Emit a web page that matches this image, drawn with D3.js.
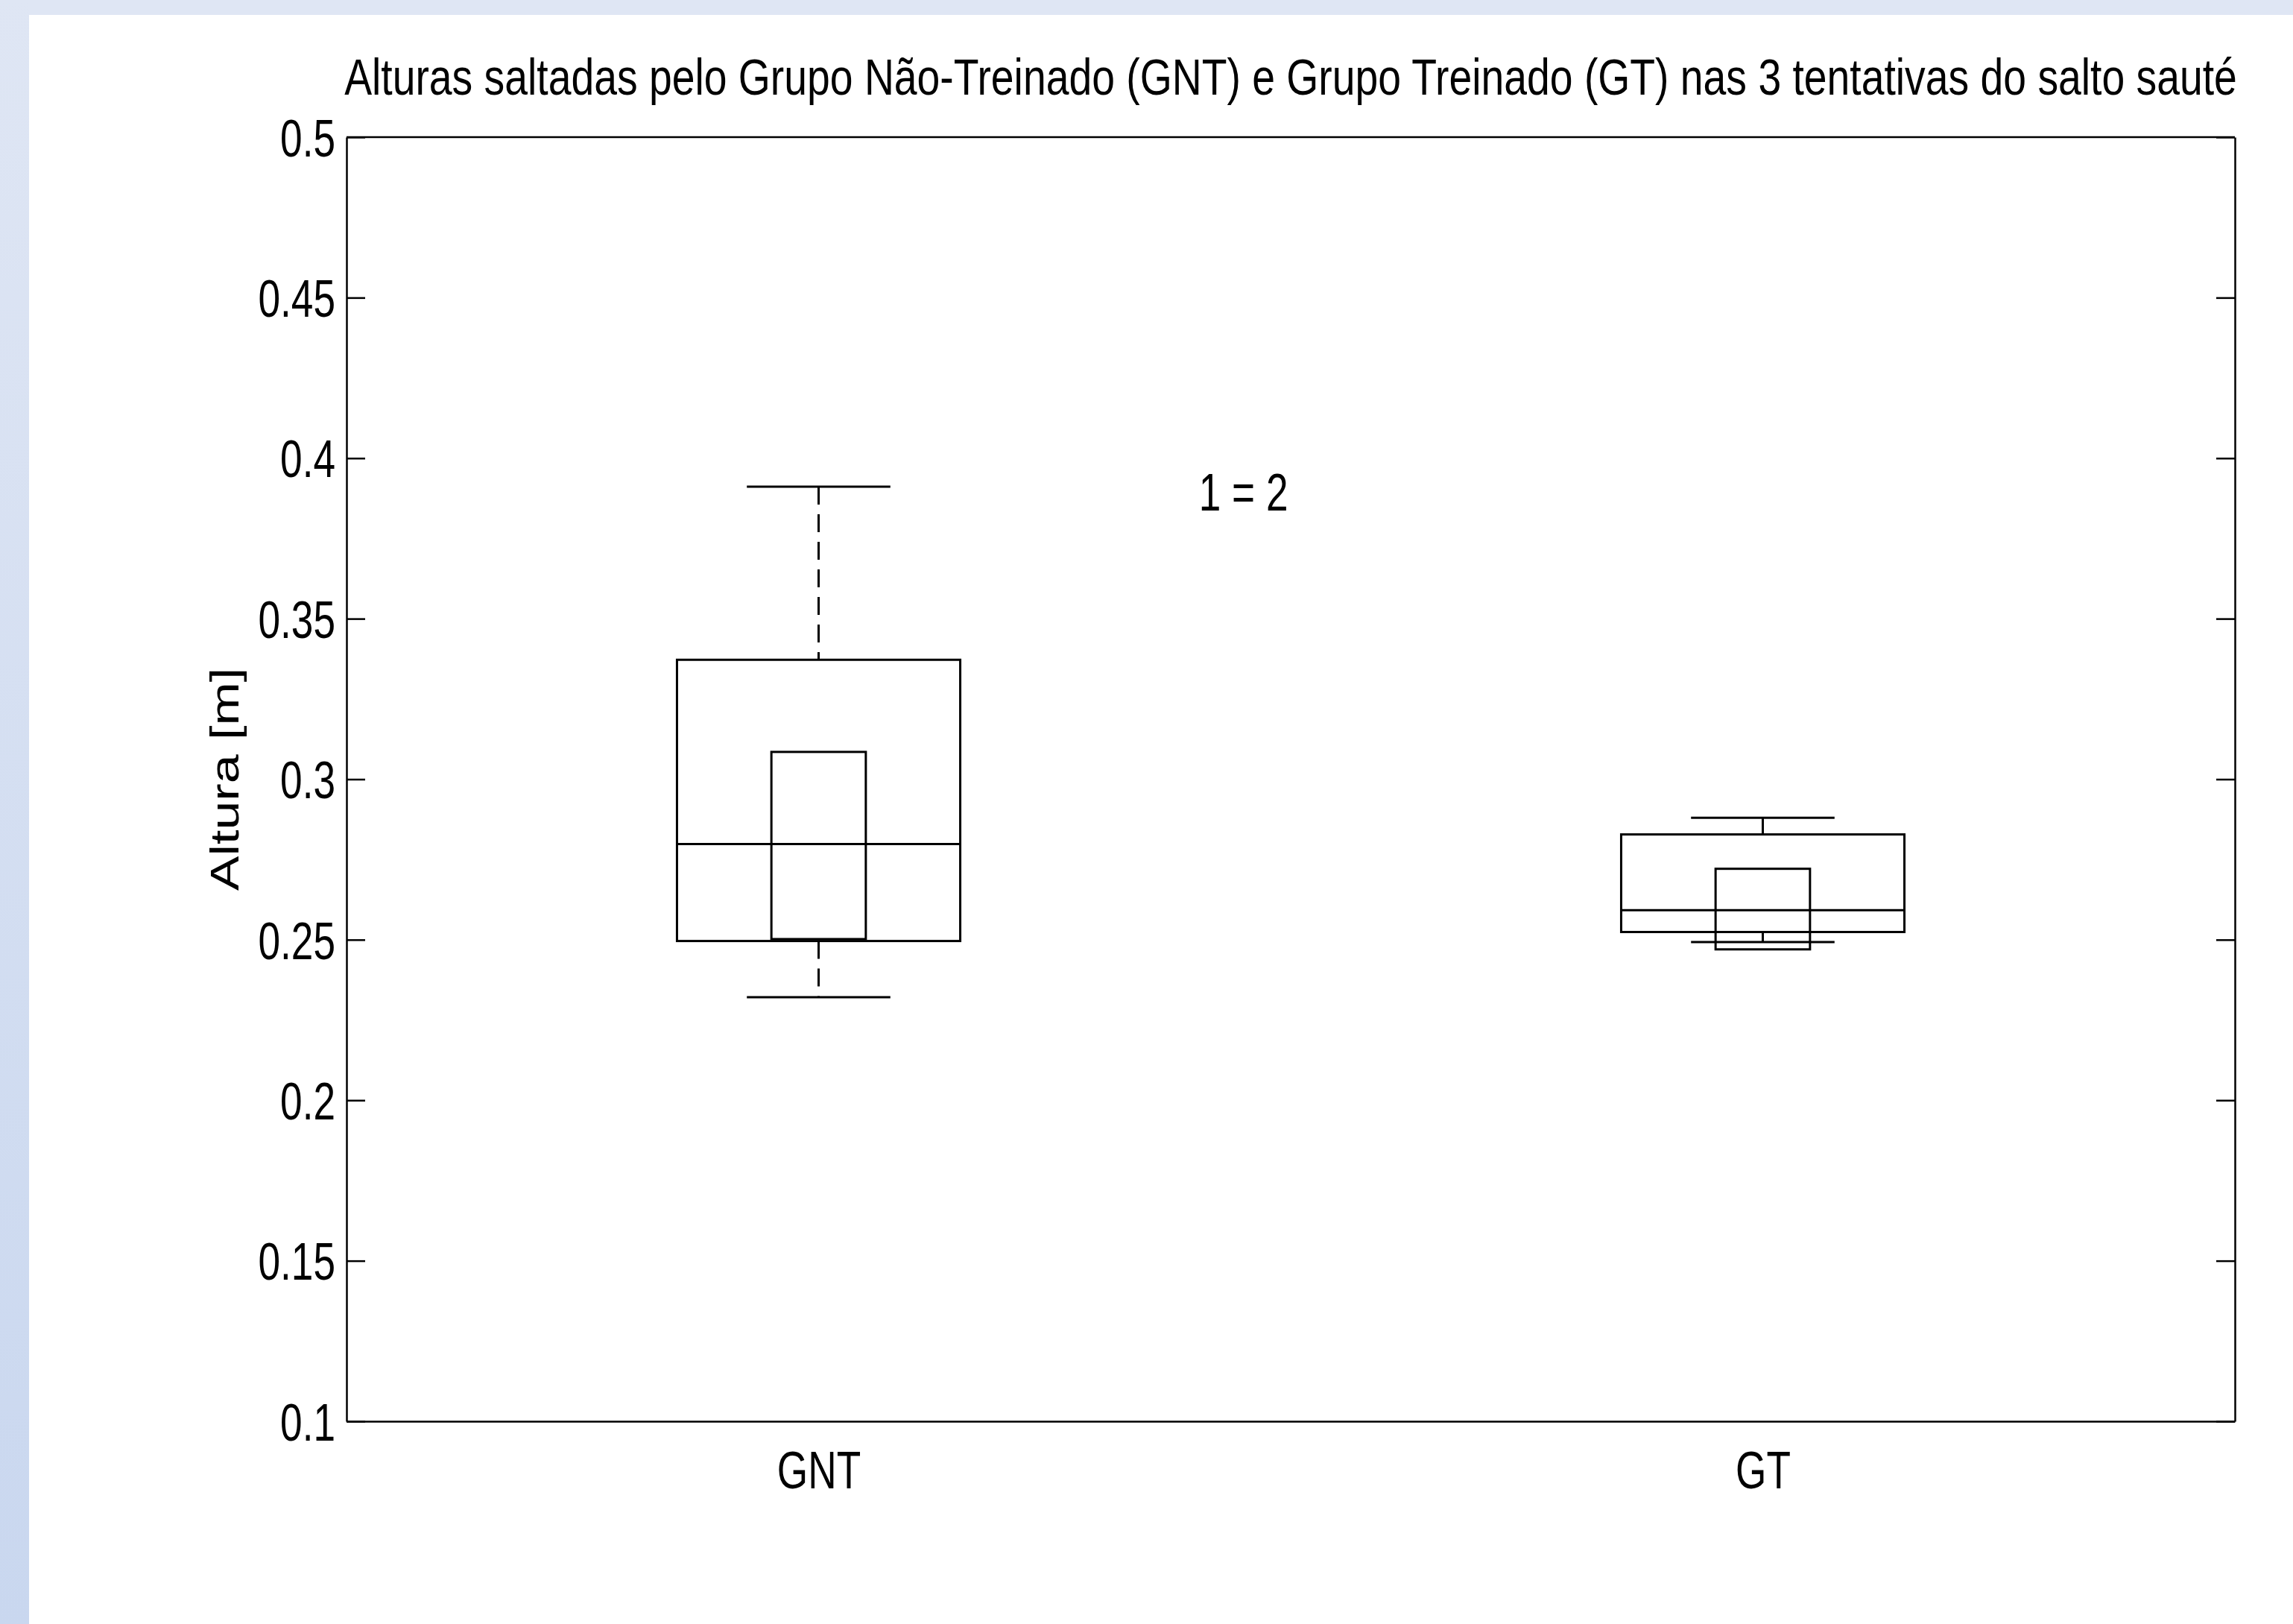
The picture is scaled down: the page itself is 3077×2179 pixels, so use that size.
<!DOCTYPE html>
<html>
<head>
<meta charset="utf-8">
<script src="https://cdn.jsdelivr.net/npm/d3@7"></script>
<style>
  body { margin: 0; background: #fff; }
  svg text { font-family: "Liberation Sans", Arial, sans-serif; fill: #000; }
</style>
</head>
<body>
<div id="chart"></div>
<script>
// Données du graphique
const groups = ["GNT", "GT"];
const positions = [1, 2];
const whiskerLow = [0.2321, 0.2493];
const q1 = [0.2496, 0.2524];
const median = [0.2798, 0.2592];
const q3 = [0.3372, 0.2828];
const whiskerHigh = [0.3911, 0.2880];
const innerLow = [0.2502, 0.2470];
const innerHigh = [0.3085, 0.2721];
const yTicks = [0.1, 0.15, 0.2, 0.25, 0.3, 0.35, 0.4, 0.45, 0.5];
const titleText = "Alturas saltadas pelo Grupo Não-Treinado (GNT) e Grupo Treinado (GT) nas 3 tentativas do salto sauté";
const yLabel = "Altura [m]";
const note = {x: 1.45, y: 0.3838, text: "1 = 2"};

const W = 3077, H = 2179;
const margin = {top: 184, right: 78, bottom: 272, left: 465};
const fontSize = 70, squeeze = 0.76;   // texte étroit comme dans l'original

const svg = d3.select("#chart").append("svg")
    .attr("width", W)
    .attr("height", H);

// Fond : bandes bleues en haut et à gauche
const grad = svg.append("defs").append("linearGradient")
    .attr("id", "side").attr("x1", 0).attr("y1", 0).attr("x2", 0).attr("y2", 1);
grad.append("stop").attr("offset", "0%").attr("stop-color", "#dfe6f4");
grad.append("stop").attr("offset", "100%").attr("stop-color", "#c9d7ef");

svg.append("rect").attr("width", W).attr("height", H).attr("fill", "#fff");
svg.append("rect").attr("width", W).attr("height", 20).attr("fill", "#dfe6f4");
svg.append("rect").attr("width", 39).attr("height", H).attr("fill", "url(#side)");

const x = d3.scaleLinear()
    .domain([0.5, 2.5])
    .range([margin.left, W - margin.right]);

const y = d3.scaleLinear()
    .domain([0.1, 0.5])
    .range([H - margin.bottom, margin.top]);

// Axes
const yAxis = svg.append("g")
    .attr("transform", "translate(" + margin.left + ",0)")
    .call(d3.axisLeft(y).tickValues(yTicks).tickFormat(d3.format("~g"))
        .tickSizeInner(-25).tickSizeOuter(0).tickPadding(15));

yAxis.selectAll("text")
    .attr("font-size", fontSize)
    .attr("x", -15 / squeeze)
    .attr("dy", "0.36em")
    .attr("transform", "scale(" + squeeze + ",1)");

svg.append("g")
    .attr("transform", "translate(" + (W - margin.right) + ",0)")
    .call(d3.axisRight(y).tickValues(yTicks).tickFormat("")
        .tickSizeInner(-25).tickSizeOuter(0));

const xAxis = svg.append("g")
    .attr("transform", "translate(0," + (H - margin.bottom) + ")")
    .call(d3.axisBottom(x).tickValues(positions).tickFormat((d, i) => groups[i])
        .tickSize(0).tickPadding(40));

xAxis.selectAll("text")
    .attr("font-size", fontSize)
    .attr("transform", "scale(" + squeeze + ",1)");

svg.append("line")
    .attr("x1", x(0.5)).attr("x2", x(2.5))
    .attr("y1", y(0.5)).attr("y2", y(0.5));

svg.selectAll(".domain, .tick line, line")
    .attr("stroke", "#000")
    .attr("stroke-width", 2.5);

// Boîtes à moustaches
const boxHalf = 0.15, capHalf = 0.076, innerHalf = 0.05;
const stats = positions.map((p, i) => ({
    pos: p,
    lo: whiskerLow[i], q1: q1[i], med: median[i], q3: q3[i], hi: whiskerHigh[i],
    inLo: innerLow[i], inHi: innerHigh[i]
}));

const box = svg.append("g")
    .attr("stroke", "#000")
    .attr("stroke-width", 3)
    .attr("fill", "none");

const g = box.selectAll("g.box")
    .data(stats)
    .enter().append("g")
    .attr("class", "box");

// moustaches
g.append("line")
    .attr("x1", d => x(d.pos)).attr("x2", d => x(d.pos))
    .attr("y1", d => y(d.hi)).attr("y2", d => y(d.q3))
    .attr("stroke-dasharray", "24,13");
g.append("line")
    .attr("x1", d => x(d.pos)).attr("x2", d => x(d.pos))
    .attr("y1", d => y(d.q1)).attr("y2", d => y(d.lo))
    .attr("stroke-dasharray", "24,13");

g.append("line")
    .attr("x1", d => x(d.pos - capHalf)).attr("x2", d => x(d.pos + capHalf))
    .attr("y1", d => y(d.hi)).attr("y2", d => y(d.hi));
g.append("line")
    .attr("x1", d => x(d.pos - capHalf)).attr("x2", d => x(d.pos + capHalf))
    .attr("y1", d => y(d.lo)).attr("y2", d => y(d.lo));

g.append("rect")
    .attr("x", d => x(d.pos - boxHalf))
    .attr("width", d => x(d.pos + boxHalf) - x(d.pos - boxHalf))
    .attr("y", d => y(d.q3))
    .attr("height", d => y(d.q1) - y(d.q3));

g.append("rect")
    .attr("x", d => x(d.pos - innerHalf))
    .attr("width", d => x(d.pos + innerHalf) - x(d.pos - innerHalf))
    .attr("y", d => y(d.inHi))
    .attr("height", d => y(d.inLo) - y(d.inHi));

g.append("line")
    .attr("x1", d => x(d.pos - boxHalf)).attr("x2", d => x(d.pos + boxHalf))
    .attr("y1", d => y(d.med)).attr("y2", d => y(d.med));

// Textes
const title = svg.append("text")
    .attr("text-anchor", "middle")
    .attr("font-size", 68)
    .text(titleText);
const titleWidth = 2540;
const sx = titleWidth / title.node().getComputedTextLength();
title.attr("transform", "translate(" + ((x(0.5) + x(2.5)) / 2) + ",127) scale(" + sx + ",1)");

svg.append("text")
    .attr("transform", "translate(320," + y(0.3) + ") rotate(-90) scale(1," + squeeze + ")")
    .attr("text-anchor", "middle")
    .attr("font-size", fontSize)
    .text(yLabel);

svg.append("text")
    .attr("transform", "translate(" + x(note.x) + "," + y(note.y) + ") scale(" + squeeze + ",1)")
    .attr("text-anchor", "middle")
    .attr("font-size", fontSize)
    .text(note.text);
</script>
</body>
</html>
